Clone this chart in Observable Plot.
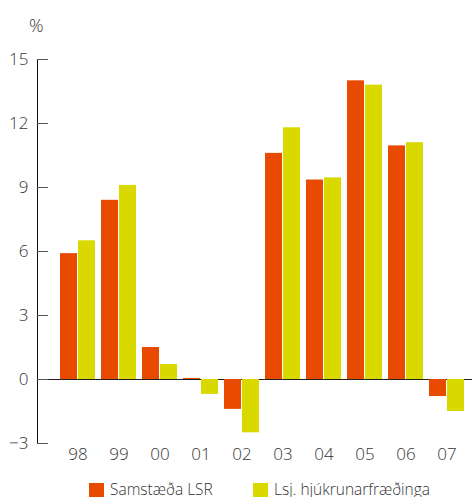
<!DOCTYPE html>
<html><head><meta charset="utf-8">
<script src="https://cdn.jsdelivr.net/npm/d3@7"></script>
<script src="https://cdn.jsdelivr.net/npm/@observablehq/plot@0.6"></script>
<style>
html,body{margin:0;padding:0;background:#fff;}
body{font-family:"Open Sans",sans-serif;font-weight:300;color:#333;width:472px;height:497px;overflow:hidden;}
#legend{position:relative;height:27px;}
.sw{position:absolute;top:13px;width:15px;height:15px;}
.lab{position:absolute;top:9px;font-size:15.5px;line-height:20px;white-space:nowrap;color:#333;}
</style></head><body><div id="chart"></div>
<div id="legend"></div>
<script>
const years = ["98","99","00","01","02","03","04","05","06","07"];
const samstaeda = [5.9, 8.4, 1.5, 0.05, -1.4, 10.6, 9.35, 14.0, 10.95, -0.8];
const hjukrun = [6.5, 9.1, 0.7, -0.7, -2.5, 11.8, 9.45, 13.8, 11.1, -1.5];
const yTicks = [-3, 0, 3, 6, 9, 12, 15];
const seriesNames = ["Samstæða LSR", "Lsj. hjúkrunarfræðinga"];
const colors = ["#e84a00", "#d9d900"];

const data = years.map((y, i) => ({year: y, a: samstaeda[i], b: hjukrun[i]}));

const plot = Plot.plot({
  width: 472, height: 470,
  marginTop: 59, marginBottom: 27, marginLeft: 37, marginRight: 0,
  style: {fontFamily: "'Open Sans', sans-serif", fontWeight: 300, fontSize: "17px", color: "#333", background: "#fff", overflow: "visible"},
  x: {domain: years, paddingInner: 6/41, paddingOuter: 0.378, align: 0.742, axis: null},
  y: {domain: [-3, 15], axis: null},
  marks: [
    Plot.ruleY([0], {stroke: "#222", strokeWidth: 1}),
    Plot.barY(data, {x: "year", y: "a", fill: colors[0], insetRight: 18}),
    Plot.barY(data, {x: "year", y: "b", fill: colors[1], insetLeft: 18}),
    Plot.frame({anchor: "left", stroke: "#111"}),
    Plot.axisY(yTicks, {tickSize: 11, dx: 11, fill: "none", stroke: "#555", label: null}),
    Plot.axisY(yTicks, {tickSize: 0, tickPadding: 9, stroke: "none", label: null}),
    Plot.axisX({tickSize: 0, tickPadding: 4, label: null}),
    Plot.text(["%"], {frameAnchor: "top-left", dx: -8.5, dy: -40, fontSize: 18})
  ]
});
document.getElementById("chart").appendChild(plot);

const legend = document.getElementById("legend");
const pos = [[89, 110], [253, 274]];
seriesNames.forEach((n, i) => {
  const s = document.createElement("div");
  s.className = "sw"; s.style.left = pos[i][0] + "px"; s.style.background = colors[i];
  const t = document.createElement("div");
  t.className = "lab"; t.style.left = pos[i][1] + "px"; t.textContent = n;
  legend.appendChild(s); legend.appendChild(t);
});
</script></body></html>
